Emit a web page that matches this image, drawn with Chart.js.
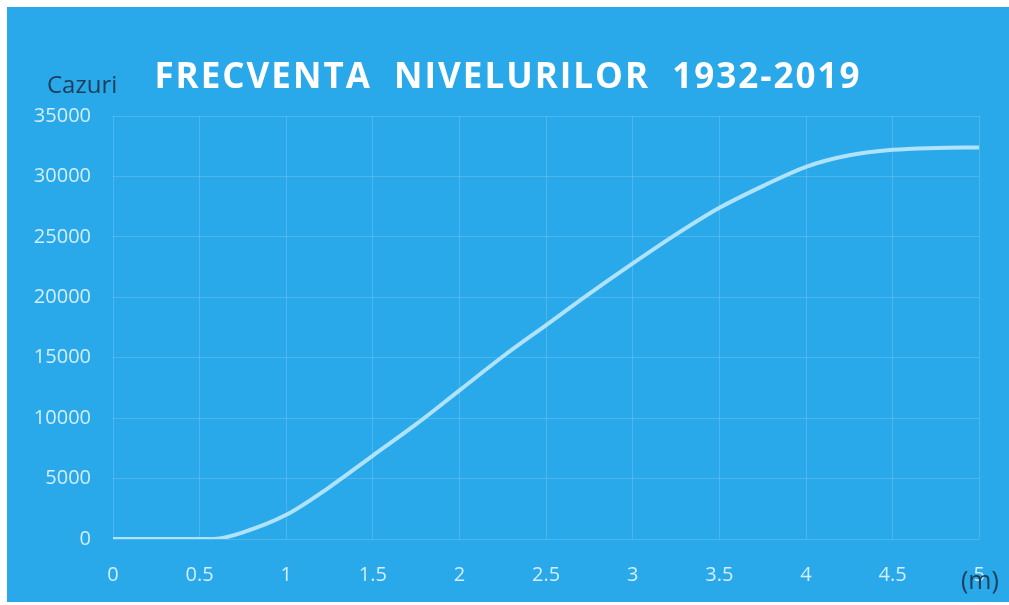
<!DOCTYPE html>
<html>
<head>
<meta charset="utf-8">
<script src="https://cdn.jsdelivr.net/npm/chart.js@4/dist/chart.umd.min.js"></script>
<style>
  html, body { margin: 0; padding: 0; background: #fff; }
  #wrap { position: absolute; left: 7px; top: 7px; width: 1002px; height: 595px; background: #29a8ea; }
</style>
</head>
<body>
<div id="wrap"><canvas id="chart"></canvas></div>
<script>
// nivel (m) vs numar de cazuri
const levels = [0, 0.25, 0.5, 0.6, 0.75, 1, 1.25, 1.5, 1.75, 2, 2.25, 2.5, 2.75, 3, 3.25, 3.5, 3.75, 4, 4.25, 4.5, 4.75, 5];
const cases = [0, 0, 0, 30, 550, 2000, 4300, 6900, 9500, 12300, 15100, 17700, 20300, 22800, 25200, 27400, 29200, 30800, 31750, 32200, 32350, 32400];

const title = 'FRECVENTA  NIVELURILOR  1932-2019';
const yLabel = 'Cazuri';
const xLabel = '(m)';

const tickColor = '#d3eefc';
const gridColor = 'rgba(255,255,255,0.16)';

// titles and axis names drawn on the canvas
const labelsPlugin = {
  id: 'labels',
  afterDraw(chart) {
    const ctx = chart.ctx;
    ctx.save();
    ctx.fillStyle = '#ffffff';
    ctx.font = 'bold 35px "Open Sans"';
    ctx.letterSpacing = '2px';
    ctx.textAlign = 'left';
    ctx.textBaseline = 'alphabetic';
    const w = ctx.measureText(title).width;
    ctx.fillText(title, 501 - w / 2, 81);
    ctx.letterSpacing = '0px';

    ctx.fillStyle = '#1d3d58';
    ctx.font = '24px "Open Sans"';
    ctx.fillText(yLabel, 40, 86);
    ctx.font = '25px "Open Sans"';
    ctx.fillText(xLabel, 954, 582);
    ctx.restore();
  }
};

new Chart(document.getElementById('chart'), {
  type: 'line',
  data: {
    datasets: [{
      data: levels.map((x, i) => ({ x, y: cases[i] })),
      borderColor: '#aee3fb',
      borderWidth: 4,
      pointRadius: 0,
      cubicInterpolationMode: 'monotone',
      fill: false
    }]
  },
  options: {
    responsive: true,
    maintainAspectRatio: false,
    animation: false,
    layout: { padding: { left: 0, right: 22, top: 109, bottom: 0 } },
    plugins: {
      legend: { display: false },
      tooltip: { enabled: false }
    },
    scales: {
      x: {
        type: 'linear',
        min: 0,
        max: 5,
        ticks: {
          stepSize: 0.5,
          color: tickColor,
          padding: 24,
          maxRotation: 0,
          font: { family: 'Open Sans', size: 20 },
          callback: v => String(v)
        },
        grid: { color: gridColor, lineWidth: 1, drawTicks: false },
        border: { display: false },
        afterFit: s => { s.height = 63; }
      },
      y: {
        min: 0,
        max: 35000,
        ticks: {
          stepSize: 5000,
          color: tickColor,
          padding: 22,
          font: { family: 'Open Sans', size: 20 },
          callback: v => String(v)
        },
        grid: { color: gridColor, lineWidth: 1, drawTicks: false },
        border: { display: false },
        afterFit: s => { s.width = 106; }
      }
    }
  },
  plugins: [labelsPlugin]
});
</script>
</body>
</html>
